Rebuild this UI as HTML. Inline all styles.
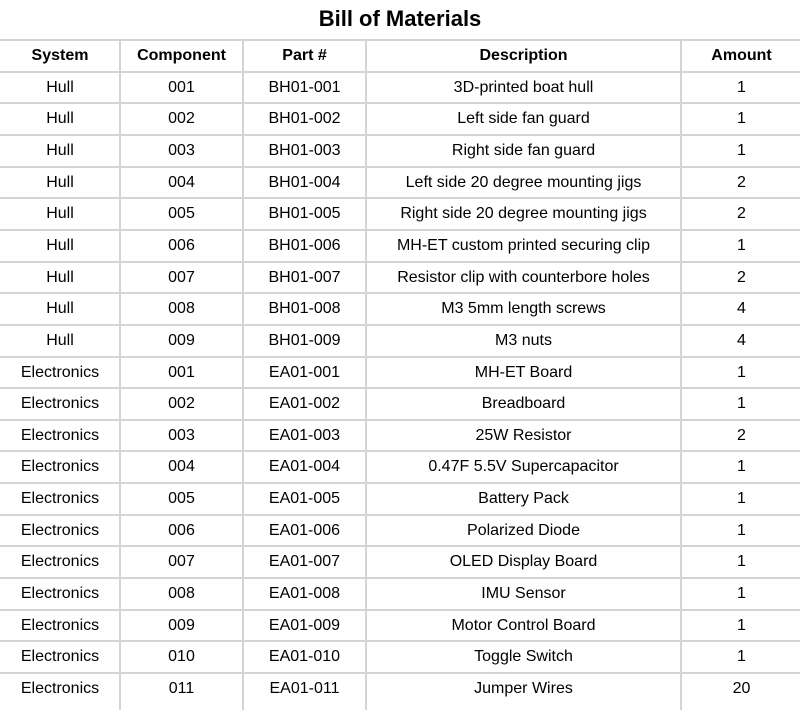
<!DOCTYPE html>
<html><head><style>
body{margin:0;width:800px;height:705px;background:#fff;overflow:hidden;font-family:"Liberation Sans",Arial,sans-serif;position:relative}
.t{position:absolute;top:6px;left:0;width:800px;text-align:center;font-weight:bold;font-size:22px;color:#000}
.h{position:absolute;left:0;width:800px;height:2px;background:#d4d4d4}
.v{position:absolute;top:40px;width:2px;height:670px;background:#d4d4d4}
.c{position:absolute;height:31px;line-height:32px;text-align:center;font-size:16px;color:#000;white-space:nowrap}
.b{font-weight:bold}
</style></head><body>
<div class="t">Bill of Materials</div>
<div id="g"></div>
<script>
var rows=[["System","Component","Part #","Description","Amount"],
["Hull","001","BH01-001","3D-printed boat hull","1"],
["Hull","002","BH01-002","Left side fan guard","1"],
["Hull","003","BH01-003","Right side fan guard","1"],
["Hull","004","BH01-004","Left side 20 degree mounting jigs","2"],
["Hull","005","BH01-005","Right side 20 degree mounting jigs","2"],
["Hull","006","BH01-006","MH-ET custom printed securing clip","1"],
["Hull","007","BH01-007","Resistor clip with counterbore holes","2"],
["Hull","008","BH01-008","M3 5mm length screws","4"],
["Hull","009","BH01-009","M3 nuts","4"],
["Electronics","001","EA01-001","MH-ET Board","1"],
["Electronics","002","EA01-002","Breadboard","1"],
["Electronics","003","EA01-003","25W Resistor","2"],
["Electronics","004","EA01-004","0.47F 5.5V Supercapacitor","1"],
["Electronics","005","EA01-005","Battery Pack","1"],
["Electronics","006","EA01-006","Polarized Diode","1"],
["Electronics","007","EA01-007","OLED Display Board","1"],
["Electronics","008","EA01-008","IMU Sensor","1"],
["Electronics","009","EA01-009","Motor Control Board","1"],
["Electronics","010","EA01-010","Toggle Switch","1"],
["Electronics","011","EA01-011","Jumper Wires","20"]];
var xs=[0,120,243,366,681,802],h="",p=31.65;
for(var i=0;i<=20;i++)h+='<div class="h" style="top:'+(39+i*p).toFixed(1)+'px"></div>';
for(var j=1;j<5;j++)h+='<div class="v" style="left:'+(xs[j]-1)+'px"></div>';
for(var i=0;i<rows.length;i++)for(var j=0;j<5;j++){
h+='<div class="c'+(i?'':' b')+'" style="top:'+(40+i*p).toFixed(1)+'px;left:'+xs[j]+'px;width:'+(xs[j+1]-xs[j])+'px">'+rows[i][j]+'</div>';}
document.getElementById('g').innerHTML=h;
</script>
</body></html>
